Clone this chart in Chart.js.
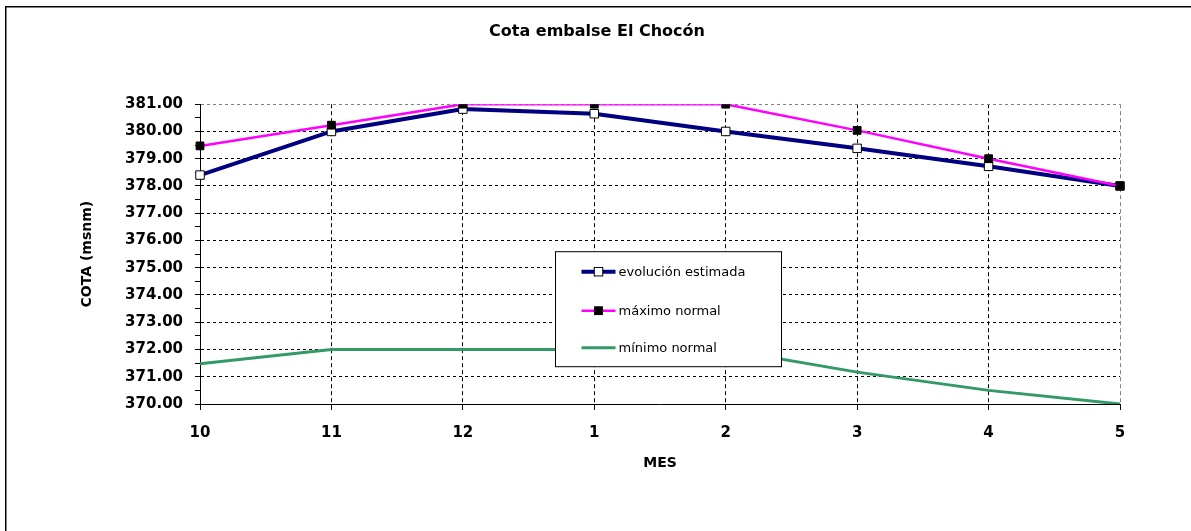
<!DOCTYPE html>
<html>
<head>
<meta charset="utf-8">
<script src="https://cdn.jsdelivr.net/npm/chart.js@4"></script>
<style>
  body { margin: 0; background: #fff; }
</style>
</head>
<body>
<canvas id="cotaChart" width="1191" height="531"></canvas>
<script>
const meses = ["10", "11", "12", "1", "2", "3", "4", "5"];
const evolucionEstimada = [378.4, 380.0, 380.82, 380.65, 380.0, 379.38, 378.72, 378.0];
const maximoNormal = [379.47, 380.23, 381.0, 381.0, 381.0, 380.04, 379.0, 378.0];
const minimoNormal = [371.48, 372.0, 372.0, 372.0, 372.0, 371.17, 370.5, 370.0];
const cotaMin = 370;
const cotaMax = 381;

Chart.defaults.font.family = "'DejaVu Sans', sans-serif";
Chart.defaults.color = "#000";

// white page with the old excel frame (only top + left visible)
const frame = {
  id: "frame",
  beforeDraw(chart) {
    const ctx = chart.ctx;
    ctx.save();
    ctx.fillStyle = "#fff";
    ctx.fillRect(0, 0, chart.width, chart.height);
    ctx.strokeStyle = "#000";
    ctx.lineWidth = 1.5;
    ctx.beginPath();
    ctx.moveTo(5.75, chart.height + 2);
    ctx.lineTo(5.75, 6.75);
    ctx.lineTo(chart.width + 2, 6.75);
    ctx.stroke();
    ctx.restore();
  }
};

// legend box sitting inside the plot
const boxLegend = {
  id: "boxLegend",
  afterDatasetsDraw(chart) {
    const ctx = chart.ctx;
    const area = chart.chartArea;
    const bx = area.left + 355.5, by = area.top + 147.5, bw = 226, bh = 115;
    ctx.save();
    ctx.fillStyle = "#fff";
    ctx.fillRect(bx, by, bw, bh);
    ctx.strokeStyle = "#000";
    ctx.lineWidth = 1;
    ctx.strokeRect(bx, by, bw, bh);
    const rows = [20, 59, 96];
    chart.data.datasets.forEach((ds, i) => {
      const y = by + rows[i];
      const x1 = bx + 26, x2 = bx + 60;
      ctx.strokeStyle = ds.borderColor;
      ctx.lineWidth = ds.borderWidth;
      ctx.beginPath();
      ctx.moveTo(x1, y);
      ctx.lineTo(x2, y);
      ctx.stroke();
      if (ds.pointRadius > 0) {
        const s = ds.pointRadius * Math.SQRT1_2;
        ctx.fillStyle = ds.pointBackgroundColor;
        ctx.fillRect((x1 + x2) / 2 - s, y - s, 2 * s, 2 * s);
        ctx.strokeStyle = ds.pointBorderColor;
        ctx.lineWidth = ds.pointBorderWidth;
        ctx.strokeRect((x1 + x2) / 2 - s, y - s, 2 * s, 2 * s);
      }
      ctx.fillStyle = "#000";
      ctx.font = "13px 'DejaVu Sans'";
      ctx.textBaseline = "middle";
      ctx.fillText(ds.label, x2 + 3, y + 1);
    });
    ctx.restore();
  }
};

new Chart(document.getElementById("cotaChart"), {
  type: "line",
  data: {
    labels: meses,
    datasets: [
      {
        label: "evolución estimada",
        data: evolucionEstimada,
        borderColor: "#000080",
        borderWidth: 4,
        pointStyle: "rect",
        pointRadius: 6,
        pointBackgroundColor: "#fff",
        pointBorderColor: "#000",
        pointBorderWidth: 1,
        order: 3
      },
      {
        label: "máximo normal",
        data: maximoNormal,
        borderColor: "#ff00ff",
        borderWidth: 2.5,
        pointStyle: "rect",
        pointRadius: 5.5,
        pointBackgroundColor: "#000",
        pointBorderColor: "#000",
        pointBorderWidth: 1,
        order: 2
      },
      {
        label: "mínimo normal",
        data: minimoNormal,
        borderColor: "#339966",
        borderWidth: 3,
        pointRadius: 0,
        tension: 0,
        order: 1
      }
    ]
  },
  options: {
    responsive: false,
    animation: false,
    layout: { padding: { left: 74, right: 71, top: 0, bottom: 0 } },
    plugins: {
      legend: { display: false },
      tooltip: { enabled: false },
      title: {
        display: true,
        text: "Cota embalse El Chocón",
        font: { size: 16, weight: "bold" },
        color: "#000",
        padding: { top: 22, bottom: 63 }
      }
    },
    scales: {
      x: {
        offset: false,
        afterFit(scale) { scale.height = 127; },
        grid: {
          offset: false,
          color: (c) => c.index === meses.length - 1 ? "#808080" : "#000",
          tickColor: "#000",
          tickLength: 6,
          tickBorderDash: []
        },
        border: { display: true, color: "#000", width: 1, dash: [4, 3] },
        ticks: { font: { size: 15, weight: "bold" }, padding: 14, autoSkip: false, maxRotation: 0 },
        title: {
          display: true,
          text: "MES",
          font: { size: 14, weight: "bold" },
          padding: { top: 0, bottom: 59 }
        }
      },
      y: {
        min: cotaMin,
        max: cotaMax,
        afterFit(scale) { scale.width = 126; },
        grid: {
          color: (c) => {
            if (!c.tick) return "transparent";
            if (c.tick.value % 1 !== 0) return "transparent";
            return c.tick.value === cotaMax ? "#808080" : "#000";
          },
          tickColor: "#000",
          tickLength: 5,
          tickBorderDash: []
        },
        border: { display: true, color: "#000", width: 1, dash: [3, 3] },
        ticks: {
          stepSize: 0.5,
          autoSkip: false,
          maxTicksLimit: 40,
          padding: 12,
          font: { size: 15, weight: "bold" },
          callback: (v) => v % 1 === 0 ? v.toFixed(2) : ""
        },
        title: {
          display: true,
          text: "COTA (msnm)",
          font: { size: 14, weight: "bold" },
          padding: { top: 5, bottom: 0 }
        }
      }
    }
  },
  plugins: [frame, boxLegend]
});
</script>
</body>
</html>
